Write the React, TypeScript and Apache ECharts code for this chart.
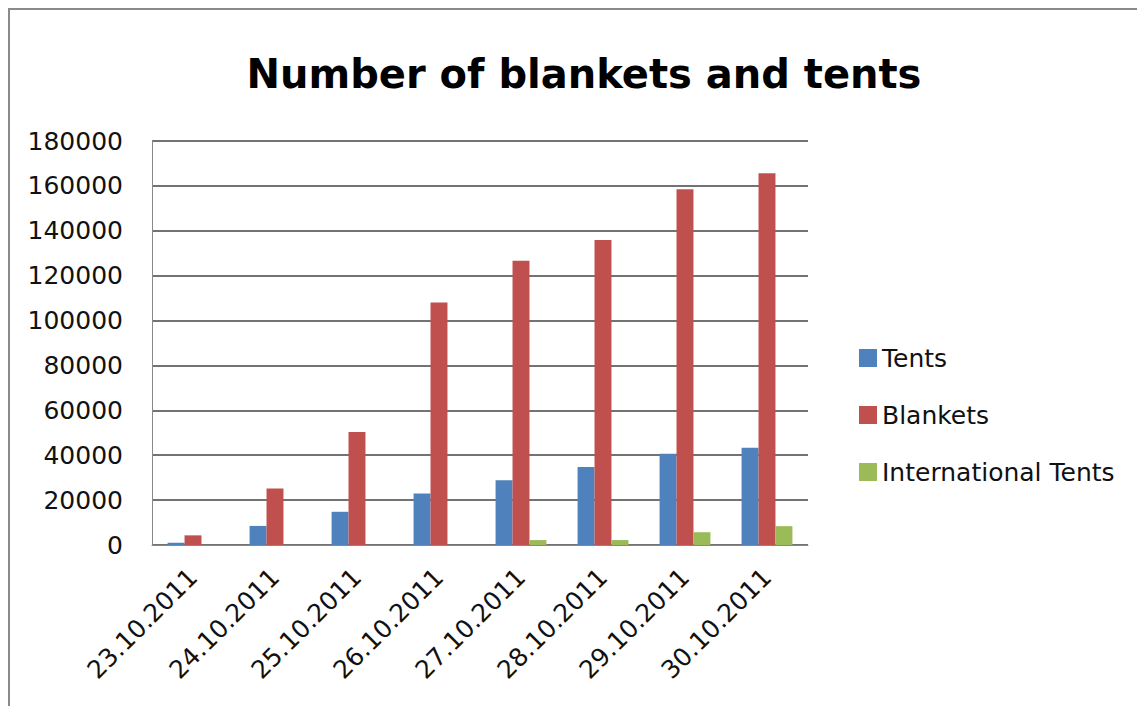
import React, { useEffect, useRef } from "react";
import * as echarts from "echarts";

const categories = ["23.10.2011", "24.10.2011", "25.10.2011", "26.10.2011", "27.10.2011", "28.10.2011", "29.10.2011", "30.10.2011"];
const tents = [1000, 8500, 14800, 23000, 28900, 34800, 40700, 43300];
const blankets = [4300, 25200, 50400, 108000, 126700, 135900, 158500, 165600];
const intlTents = [0, 0, 0, 0, 2200, 2200, 5700, 8400];
const yTicks = [0, 20000, 40000, 60000, 80000, 100000, 120000, 140000, 160000, 180000];

const FONT = "'DejaVu Sans', sans-serif";

export default function App() {
  const ref = useRef<HTMLDivElement>(null);
  useEffect(() => {
    const chart = echarts.init(ref.current!, null, { renderer: "svg" });
    chart.setOption({
      animation: false,
      backgroundColor: "#ffffff",
      title: {
        text: "Number of blankets and tents",
        left: 579,
        top: 49,
        textAlign: "center",
        textStyle: { fontFamily: FONT, fontWeight: "bold", fontSize: 40, color: "#000" },
      },
      graphic: [
        {
          type: "rect",
          shape: { x: 9, y: 9, width: 1140, height: 710 },
          style: { fill: "none", stroke: "#8a8a8a", lineWidth: 2 },
          silent: true,
        },
      ],
      legend: {
        orient: "vertical",
        left: 854,
        top: 340,
        itemWidth: 18,
        itemHeight: 18,
        itemGap: 31,
        icon: "rect",
        textStyle: { fontFamily: FONT, fontSize: 25, lineHeight: 26, color: "#111" },
        data: ["Tents", "Blankets", "International Tents"],
      },
      grid: { left: 152, right: 1137 - 808, top: 141, bottom: 706 - 545, containLabel: false },
      xAxis: {
        type: "category",
        data: categories,
        axisLine: { lineStyle: { color: "#888", width: 1 } },
        axisTick: { show: false },
        axisLabel: {
          rotate: 45,
          interval: 0,
          fontFamily: FONT,
          fontSize: 25,
          color: "#111",
          margin: 28,
        },
      },
      yAxis: {
        type: "value",
        min: 0,
        max: yTicks[yTicks.length - 1],
        interval: yTicks[1] - yTicks[0],
        axisLine: { show: true, lineStyle: { color: "#888" } },
        axisTick: { show: false },
        splitLine: { lineStyle: { color: "#444", width: 1.5 } },
        axisLabel: {
          fontFamily: FONT,
          fontSize: 25,
          color: "#111",
          margin: 29,
          formatter: (v: number) => String(v),
        },
      },
      series: [
        {
          name: "Tents",
          type: "bar",
          data: tents,
          barGap: "0%",
          barCategoryGap: "38%",
          itemStyle: { color: "#4F81BD" },
        },
        {
          name: "Blankets",
          type: "bar",
          data: blankets,
          itemStyle: { color: "#C0504D" },
        },
        {
          name: "International Tents",
          type: "bar",
          data: intlTents,
          itemStyle: { color: "#9BBB59" },
        },
      ],
    });
    return () => chart.dispose();
  }, []);
  return (
    <div
      ref={ref}
      style={{ position: "fixed", left: 0, top: 0, width: 1137, height: 706 }}
    />
  );
}
